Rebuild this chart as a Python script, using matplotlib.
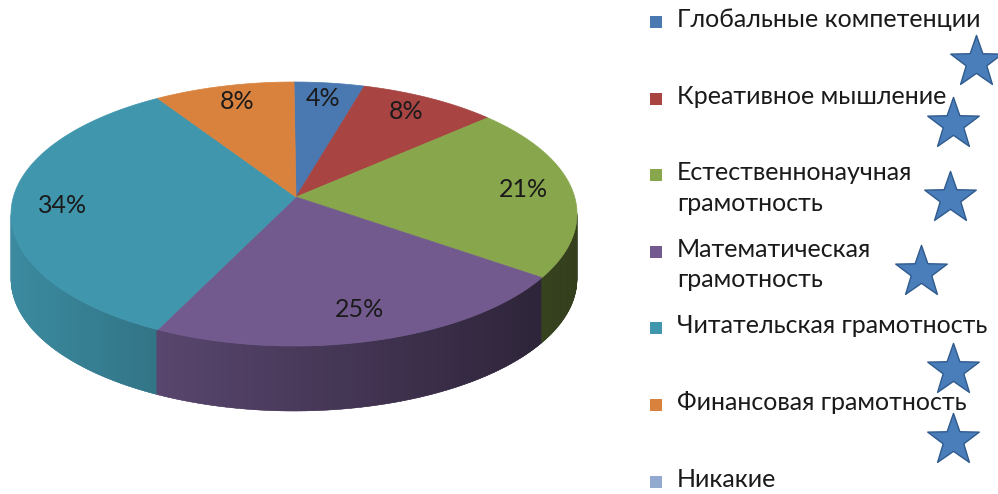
import numpy as np
import matplotlib
matplotlib.use("Agg")
import matplotlib.pyplot as plt
from matplotlib.patches import Polygon
from matplotlib.path import Path
from matplotlib.colors import to_rgb

plt.rcParams['font.family'] = ['Lato', 'DejaVu Sans']

# ---- data ----
categories = ["Глобальные компетенции", "Креативное мышление",
              "Естественнонаучная\nграмотность", "Математическая\nграмотность",
              "Читательская грамотность", "Финансовая грамотность", "Никакие"]
values = [4, 8, 21, 25, 34, 8, 0]
labels = ["4%", "8%", "21%", "25%", "34%", "8%", ""]
colors = ["#4a78b0", "#a84543", "#88a64c", "#725a8e", "#4096ad", "#d9823e", "#93a9cf"]

# ---- geometry (pixel space) ----
W, H = 998, 494
cx, cy, a, b = 294, 214, 283, 132
vx, vy = 296, 197
depth = 65

fig = plt.figure(figsize=(W / 100, H / 100), dpi=100)
ax = fig.add_axes([0, 0, 1, 1])
ax.set_xlim(0, W)
ax.set_ylim(H, 0)
ax.axis('off')

vals = np.array(values, float)
fr = vals / vals.sum()
cum = np.concatenate([[0], np.cumsum(fr)])

def ell(theta_deg):
    t = np.radians(theta_deg)
    return cx + a * np.cos(t), cy - b * np.sin(t)

def slice_of(theta):
    f = ((90 - theta) % 360) / 360
    for i in range(len(values)):
        if cum[i] <= f < cum[i + 1]:
            return i
    return len(values) - 1

# side walls (front half) with shading
step = 0.5
for th in np.arange(180, 360, step):
    i = slice_of(th + step / 2)
    x1, y1 = ell(th)
    x2, y2 = ell(th + step + 0.3)
    t = ((x1 + x2) / 2 - (cx - a)) / (2 * a)
    f = 0.92 - 0.55 * t
    col = np.clip(np.array(to_rgb(colors[i])) * f, 0, 1)
    ax.add_patch(Polygon([(x1, y1), (x2, y2), (x2, y2 + depth), (x1, y1 + depth)],
                         closed=True, facecolor=col, edgecolor=col, lw=0.3))

# top surface
for i in range(len(values)):
    if fr[i] <= 0:
        continue
    th0 = 90 - 360 * cum[i]
    th1 = 90 - 360 * cum[i + 1]
    ths = np.linspace(th0, th1, 120)
    pts = [(vx, vy)] + [ell(t) for t in ths]
    ax.add_patch(Polygon(pts, closed=True, facecolor=colors[i],
                         edgecolor=colors[i], lw=0.5))

# data labels
r = 0.82
for i in range(len(values)):
    if not labels[i]:
        continue
    mid = 90 - 360 * (cum[i] + cum[i + 1]) / 2
    ex, ey = ell(mid)
    lx = vx + r * (ex - vx)
    ly = vy + r * (ey - vy) - 5
    ax.text(lx, ly, labels[i], ha='center', va='center', fontsize=18, color='#1a1a1a')

# legend
lx0, ly0, dy = 650, 22, 76.6
for i, name in enumerate(categories):
    y = ly0 + i * dy
    ax.add_patch(Polygon([(lx0, y - 6), (lx0 + 12, y - 6), (lx0 + 12, y + 6), (lx0, y + 6)],
                         closed=True, facecolor=colors[i], edgecolor='none'))
    ax.text(lx0 + 27, y - 14, name, ha='left', va='top', fontsize=18,
            color='#1a1a1a', linespacing=1.4)

# decorative stars
ang = np.radians(90 + np.arange(10) * 36)
rad = np.where(np.arange(10) % 2 == 0, 1.0, 0.4)
star = Path(np.column_stack([rad * np.cos(ang), rad * np.sin(ang)]).tolist() + [[0, 1]],
            closed=True)
star_x = [976, 953, 950, 921, 953, 953]
star_y = [62, 124, 198, 272, 370, 440]
ax.scatter(star_x, star_y, marker=star, s=39 ** 2,
           facecolor='#4a7ebb', edgecolor='#2f5a8c', linewidth=1, zorder=5)

fig.savefig("out.png", dpi=100)
